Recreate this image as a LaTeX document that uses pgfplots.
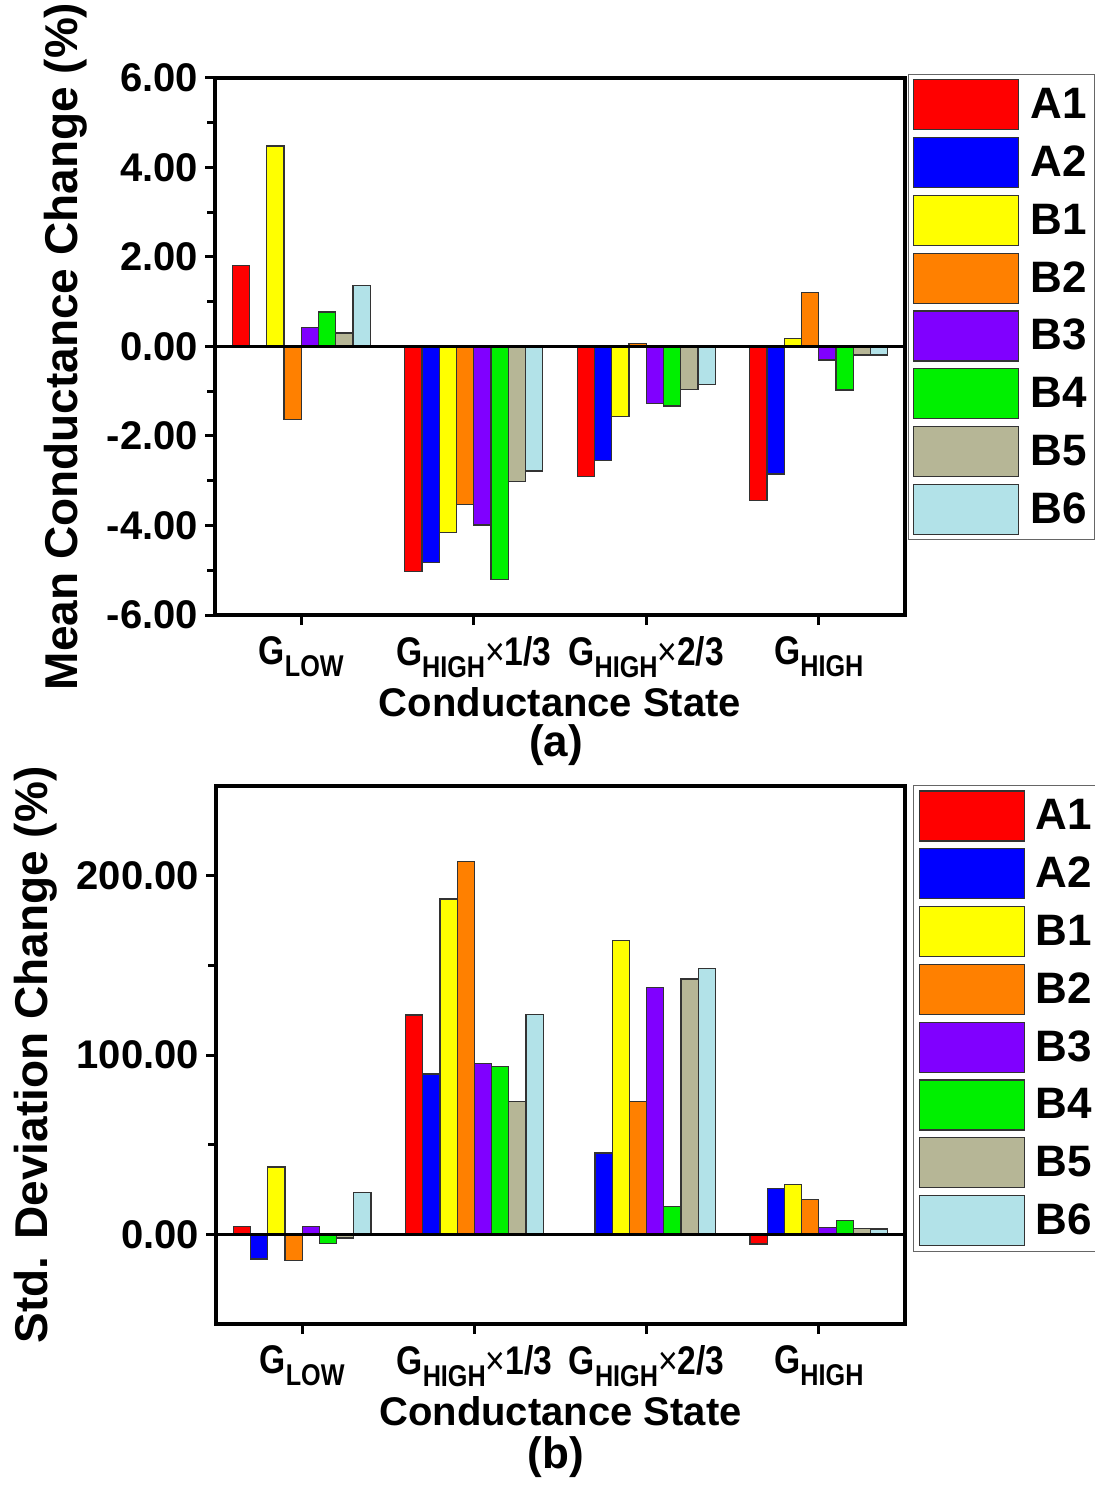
\documentclass[border=0pt]{standalone}
\usepackage{pgfplots}
\pgfplotsset{compat=1.18}
\usepackage{fontspec}
\setmainfont{Liberation Sans}
\newfontfamily\narrowfont[FakeStretch=0.84]{Liberation Sans}
\definecolor{cA1}{RGB}{255,0,0}
\definecolor{cA2}{RGB}{0,0,255}
\definecolor{cB1}{RGB}{255,255,0}
\definecolor{cB2}{RGB}{255,128,0}
\definecolor{cB3}{RGB}{128,0,255}
\definecolor{cB4}{RGB}{0,240,0}
\definecolor{cB5}{RGB}{182,182,150}
\definecolor{cB6}{RGB}{178,226,232}
\newcommand{\sub}[1]{\raisebox{-0.3em}{\fontsize{15}{16}\selectfont #1}}
\newcommand{\tms}{{\mdseries ×}}
\pgfplotsset{
  mybars/.style={
    scale only axis,
    ybar=0pt, bar width=0.1,
    xmin=0.5, xmax=4.5,
    xtick={1,2,3,4},
    xticklabels={G\sub{LOW}, G\sub{HIGH}\tms1/3, G\sub{HIGH}\tms2/3, G\sub{HIGH}},
    xtick pos=bottom, ytick pos=left, tick align=outside,
    major tick length=5pt, minor tick length=4pt,
    axis line style={line width=1.8pt},
    every tick/.style={black, line width=1.5pt},
    minor y tick num=1, minor x tick num=0,
    yticklabel style={font=\fontsize{20}{24}\selectfont\bfseries},
    xticklabel style={font=\fontsize{20}{24}\selectfont\narrowfont\bfseries, yshift=-2pt},
    /pgf/number format/.cd, fixed, fixed zerofill, precision=2, assume math mode=true, /pgfplots/.cd,
    label style={font=\fontsize{20}{24}\selectfont\bfseries},
    ylabel style={font=\fontsize{23}{26}\selectfont\bfseries, yshift=3pt},
    xlabel={Conductance State},
    xlabel style={yshift=2pt},
    legend cell align=left,
    legend image code/.code={\draw[#1, line width=0.6pt] (0pt,-12.5pt) rectangle (52.5pt,12.5pt);},
    legend style={draw=black!60, line width=0.5pt, anchor=north west,
      font=\fontsize{22}{24}\selectfont\bfseries, inner sep=2.5pt,
      row sep=3.3pt, nodes={inner sep=1.5pt}, column sep=4pt},
    every axis plot/.append style={draw=black!80, line width=0.6pt},
  }
}
\begin{document}
\begin{tikzpicture}
\begin{axis}[mybars,
  at={(107.5pt,-307.5pt)}, anchor=south west,
  width=345pt, height=268.5pt,
  ymin=-6, ymax=6, ytick={-6,-4,...,6},
  ylabel={Mean Conductance Change (\%)},
  legend style={at={(1.004,1.008)}},
]
\addplot[fill=cA1] coordinates {(1,1.81) (2,-5.02) (3,-2.90) (4,-3.44)};
\addplot[fill=cA2] coordinates {(1,0.03) (2,-4.83) (3,-2.54) (4,-2.85)};
\addplot[fill=cB1] coordinates {(1,4.48) (2,-4.15) (3,-1.56) (4,0.18)};
\addplot[fill=cB2] coordinates {(1,-1.63) (2,-3.53) (3,0.07) (4,1.20)};
\addplot[fill=cB3] coordinates {(1,0.42) (2,-3.99) (3,-1.28) (4,-0.30)};
\addplot[fill=cB4] coordinates {(1,0.77) (2,-5.20) (3,-1.33) (4,-0.97)};
\addplot[fill=cB5] coordinates {(1,0.30) (2,-3.01) (3,-0.96) (4,-0.19)};
\addplot[fill=cB6] coordinates {(1,1.37) (2,-2.78) (3,-0.85) (4,-0.19)};
\legend{A1,A2,B1,B2,B3,B4,B5,B6}
\draw[black, line width=1.4pt] (axis cs:0.5,0) -- (axis cs:4.5,0);
\end{axis}
\node[font=\fontsize{22}{26}\selectfont\bfseries] at (278pt,-372.5pt) {(a)};
\begin{axis}[mybars,
  at={(108pt,-662pt)}, anchor=south west,
  width=344.5pt, height=269pt,
  ymin=-50, ymax=250, ytick={0,100,200},
  ylabel={Std. Deviation Change (\%)},
  legend style={at={(1.012,1.002)}},
]
\addplot[fill=cA1] coordinates {(1,4.6) (2,122.3) (3,0) (4,-5.4)};
\addplot[fill=cA2] coordinates {(1,-13.7) (2,89.4) (3,45.4) (4,25.7)};
\addplot[fill=cB1] coordinates {(1,37.6) (2,187) (3,164) (4,27.9)};
\addplot[fill=cB2] coordinates {(1,-14.7) (2,208) (3,73.9) (4,19.5)};
\addplot[fill=cB3] coordinates {(1,4.2) (2,95.4) (3,137.6) (4,4.0)};
\addplot[fill=cB4] coordinates {(1,-5.2) (2,93.8) (3,15.5) (4,7.6)};
\addplot[fill=cB5] coordinates {(1,-2.0) (2,74.1) (3,142.4) (4,3.4)};
\addplot[fill=cB6] coordinates {(1,23.5) (2,122.5) (3,148.4) (4,3.0)};
\legend{A1,A2,B1,B2,B3,B4,B5,B6}
\draw[black, line width=1.4pt] (axis cs:0.5,0) -- (axis cs:4.5,0);
\end{axis}
\node[font=\fontsize{22}{26}\selectfont\bfseries] at (278pt,-728.5pt) {(b)};
\pgfresetboundingbox
\path[use as bounding box] (0,0) rectangle (547pt,-743pt);
\end{tikzpicture}
\end{document}
